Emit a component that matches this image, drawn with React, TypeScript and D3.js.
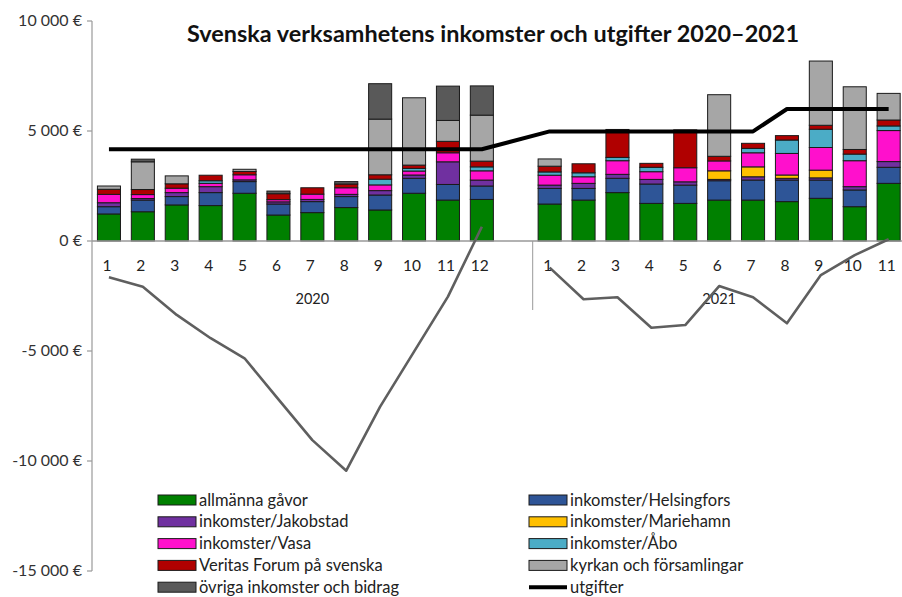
import React, { useEffect } from 'react';
import * as d3 from 'd3';

// x categories: 2020 months, an empty slot, then 2021 months
const months2020 = ['1', '2', '3', '4', '5', '6', '7', '8', '9', '10', '11', '12'];
const months2021 = ['1', '2', '3', '4', '5', '6', '7', '8', '9', '10', '11'];
const categories = [...months2020, '', ...months2021];
const yearLabels = ['2020', '2021'];
const yTicks = [10000, 5000, 0, -5000, -10000, -15000];

// income per source (€), null = the empty slot between the years
const allmannaGavor = [1230, 1330, 1640, 1610, 2170, 1180, 1290, 1520, 1410, 2170, 1860, 1890, null, 1680, 1860, 2200, 1710, 1710, 1860, 1860, 1790, 1940, 1560, 2620];
const helsingfors = [330, 530, 380, 590, 530, 500, 500, 500, 680, 680, 710, 610, null, 710, 530, 650, 880, 830, 880, 910, 980, 830, 760, 730];
const jakobstad = [180, 70, 180, 270, 80, 100, 100, 100, 200, 150, 1030, 270, null, 150, 230, 180, 210, 150, 60, 150, 80, 100, 150, 260];
const mariehamn = [0, 0, 0, 0, 0, 0, 0, 0, 0, 0, 0, 0, null, 0, 0, 0, 0, 0, 390, 450, 150, 350, 0, 0];
const vasa = [380, 180, 200, 150, 230, 100, 240, 300, 260, 180, 410, 420, null, 450, 300, 620, 350, 640, 450, 640, 980, 1030, 1180, 1410];
const abo = [0, 0, 0, 120, 0, 0, 0, 0, 260, 120, 0, 180, null, 150, 180, 150, 200, 0, 0, 200, 610, 830, 300, 210];
const veritas = [230, 230, 200, 250, 150, 270, 290, 170, 200, 150, 520, 260, null, 260, 410, 1270, 180, 1720, 210, 230, 200, 180, 210, 270];
const kyrkan = [150, 1260, 360, 0, 100, 0, 0, 0, 2530, 3060, 950, 2090, null, 330, 0, 0, 0, 0, 2800, 0, 0, 2920, 2850, 1210];
const ovriga = [0, 120, 0, 0, 0, 120, 0, 110, 1610, 0, 1560, 1330, null, 0, 0, 0, 0, 0, 0, 0, 0, 0, 0, 0];

const utgifter = [4170, 4170, 4170, 4170, 4170, 4170, 4170, 4170, 4170, 4170, 4170, 4170, null, 4980, 4980, 4980, 4980, 4980, 4980, 4980, 6000, 6000, 6000, 6000];
// running balance (grey line, no legend entry)
const saldo = [-1650, -2080, -3360, -4420, -5330, -7200, -9050, -10440, -7530, -5030, -2530, 650, null, -1210, -2650, -2560, -3940, -3820, -2050, -2560, -3740, -1550, -640, 80];

const seriesNames = [
  'allmänna gåvor', 'inkomster/Helsingfors', 'inkomster/Jakobstad', 'inkomster/Mariehamn',
  'inkomster/Vasa', 'inkomster/Åbo', 'Veritas Forum på svenska', 'kyrkan och församlingar',
  'övriga inkomster och bidrag',
];
const seriesValues = [allmannaGavor, helsingfors, jakobstad, mariehamn, vasa, abo, veritas, kyrkan, ovriga];
const seriesColors = ['#008000', '#2E5597', '#7030A0', '#FFC000', '#FF10CC', '#4BACC6', '#B00000', '#A6A6A6', '#595959'];

const W = 902;
const H = 597;
const FONT = 'Lato, "Open Sans", sans-serif';

export default function App() {
  useEffect(() => {
    document.body.style.margin = '0';
  }, []);

  const x = d3.scaleBand<number>()
    .domain(d3.range(categories.length))
    .range([92, 92 + categories.length * 33.9])
    .paddingInner(0.32)
    .paddingOuter(0.16);
  const y = d3.scaleLinear().domain([-15000, 10000]).range([571, 21]);
  const cx = (i: number) => (x(i) ?? 0) + x.bandwidth() / 2;

  const rows = categories.map((_, i) => {
    const r: Record<string, number> = { idx: i };
    seriesNames.forEach((n, k) => { r[n] = seriesValues[k][i] ?? 0; });
    return r;
  });
  const stacked = d3.stack<Record<string, number>>().keys(seriesNames)(rows);

  const linePts = (vals: (number | null)[]) => vals.map((v, i) => ({ i, v }));
  const line = d3.line<{ i: number; v: number | null }>()
    .defined(d => d.v !== null)
    .x(d => cx(d.i))
    .y(d => y(d.v as number));

  const gapIdx = months2020.length;
  const dividerX = (x(gapIdx) ?? 0) + x.bandwidth() + x.step() * x.paddingInner() / 2;
  const yearCenters = [
    (92 + dividerX) / 2,
    (dividerX + 92 + categories.length * 33.9) / 2,
  ];

  const legendLeft = seriesNames.map((n, k) => ({ n, k })).filter(d => d.k % 2 === 0);
  const legendRight = seriesNames.map((n, k) => ({ n, k })).filter(d => d.k % 2 === 1);
  const legendRowY = (r: number) => 500 + r * 21.8;

  return (
    <svg width={W} height={H} style={{ display: 'block', background: '#fff' }} fontFamily={FONT}>
      <text x={493} y={42} textAnchor="middle" fontSize={22} fontWeight="bold" fill="#111"
        textLength={612} lengthAdjust="spacingAndGlyphs">
        Svenska verksamhetens inkomster och utgifter 2020–2021
      </text>

      {/* y axis */}
      <line x1={92} x2={92} y1={y(10000)} y2={y(-15000)} stroke="#999" strokeWidth={1.2} />
      {yTicks.map(t => (
        <g key={t}>
          <line x1={87} x2={92} y1={y(t)} y2={y(t)} stroke="#999" strokeWidth={1.2} />
          <text x={82} y={y(t) + 5} textAnchor="end" fontSize={16} fill="#333">
            {d3.format(',')(t).replace(/,/g, ' ').replace('−', '-')} €
          </text>
        </g>
      ))}

      {/* bars */}
      {stacked.map((layer, k) => (
        <g key={layer.key} fill={seriesColors[k]} stroke="#1a1a1a" strokeWidth={1}>
          {layer.map((d, i) => (seriesValues[k][i] ? (
            <rect key={i} x={x(i)} width={x.bandwidth()} y={y(d[1])} height={y(d[0]) - y(d[1])} />
          ) : null))}
        </g>
      ))}

      {/* zero line and category axis */}
      <line x1={92} x2={W} y1={y(0)} y2={y(0)} stroke="#999" strokeWidth={1.5} />
      <line x1={dividerX} x2={dividerX} y1={y(0)} y2={310} stroke="#999" strokeWidth={1} />
      {categories.map((c, i) => (c ? (
        <text key={i} x={cx(i) - 2} y={271} textAnchor="middle" fontSize={15.5} fill="#222">{c}</text>
      ) : null))}
      {yearLabels.map((yl, j) => (
        <text key={yl} x={yearCenters[j]} y={304} textAnchor="middle" fontSize={14.5} fill="#222">{yl}</text>
      ))}

      {/* lines */}
      <path d={line(linePts(saldo)) ?? ''} fill="none" stroke="#5f5f5f" strokeWidth={2.6} strokeLinejoin="round" />
      <path d={line(linePts(utgifter).filter(d => d.v !== null)) ?? ''} fill="none" stroke="#000" strokeWidth={4} strokeLinejoin="round" />

      {/* legend */}
      {legendLeft.map((d, r) => (
        <g key={d.n}>
          <rect x={158} y={legendRowY(r) - 5} width={38} height={10} fill={seriesColors[d.k]} stroke="#1a1a1a" strokeWidth={1} />
          <text x={199} y={legendRowY(r) + 5.5} fontSize={16.5} fill="#222">{d.n}</text>
        </g>
      ))}
      {legendRight.map((d, r) => (
        <g key={d.n}>
          <rect x={529} y={legendRowY(r) - 5} width={38} height={10} fill={seriesColors[d.k]} stroke="#1a1a1a" strokeWidth={1} />
          <text x={570} y={legendRowY(r) + 5.5} fontSize={16.5} fill="#222">{d.n}</text>
        </g>
      ))}
      <line x1={529} x2={567} y1={legendRowY(4)} y2={legendRowY(4)} stroke="#000" strokeWidth={4} />
      <text x={570} y={legendRowY(4) + 5.5} fontSize={16.5} fill="#222">utgifter</text>
    </svg>
  );
}
